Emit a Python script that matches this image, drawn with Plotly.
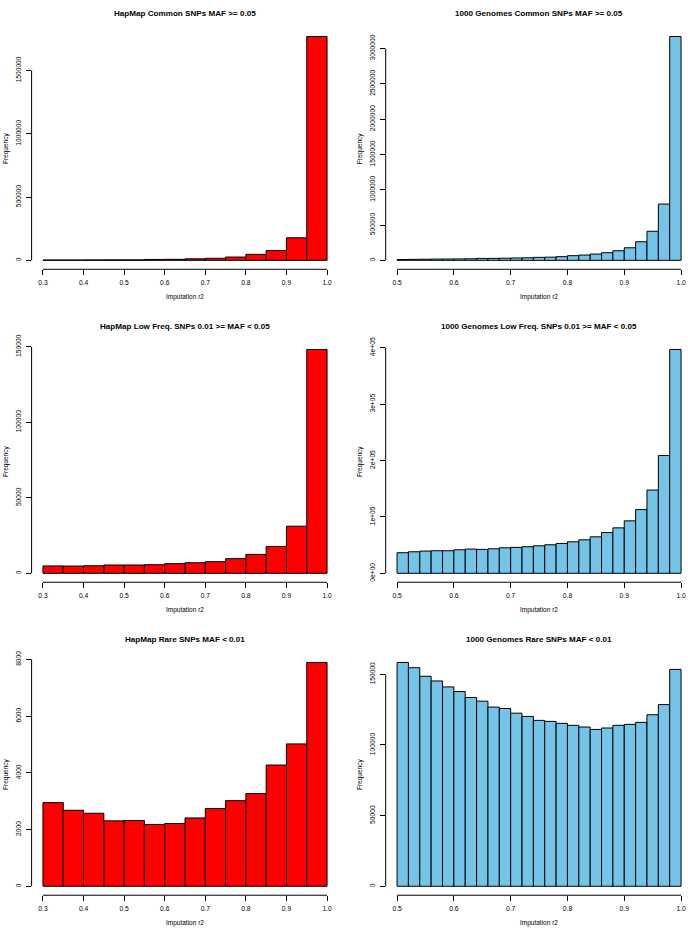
import plotly.graph_objects as go

W, H = 688, 930
FONT = "Liberation Sans, Arial, Helvetica, sans-serif"
RED = "#FF0000"
SKY = "#73C4E6"

# ---- bin edges (categories) ----
hm_edges = [0.30, 0.35, 0.40, 0.45, 0.50, 0.55, 0.60, 0.65, 0.70, 0.75, 0.80, 0.85, 0.90, 0.95, 1.00]
kg_edges = [0.50, 0.52, 0.54, 0.56, 0.58, 0.60, 0.62, 0.64, 0.66, 0.68, 0.70, 0.72, 0.74,
            0.76, 0.78, 0.80, 0.82, 0.84, 0.86, 0.88, 0.90, 0.92, 0.94, 0.96, 0.98, 1.00]

# ---- x tick labels ----
hm_xticks = [0.3, 0.4, 0.5, 0.6, 0.7, 0.8, 0.9, 1.0]
hm_xlabels = ["0.3", "0.4", "0.5", "0.6", "0.7", "0.8", "0.9", "1.0"]
kg_xticks = [0.5, 0.6, 0.7, 0.8, 0.9, 1.0]
kg_xlabels = ["0.5", "0.6", "0.7", "0.8", "0.9", "1.0"]

# ---- counts per bin ----
hm_common = [3000, 3000, 3500, 4000, 4000, 7000, 8000, 12000, 16000, 26000, 47000, 78000, 178000, 1768000]
kg_common = [12000, 14000, 16000, 18000, 19000, 20000, 22000, 27000, 28000, 30000, 33000, 36000, 42000,
             45000, 52000, 66000, 75000, 89000, 108000, 136000, 178000, 263000, 412000, 797000, 3170000]
hm_low = [4900, 4800, 5000, 5500, 5500, 5700, 6400, 7000, 7700, 9700, 12500, 17800, 31200, 148200]
kg_low = [36500, 38200, 39400, 40000, 40000, 41800, 43000, 42400, 43500, 45300, 46000, 47100, 48800,
          50600, 53000, 55900, 59400, 64700, 72300, 80600, 93000, 113000, 147700, 209000, 397000]
hm_rare = [2950, 2680, 2575, 2307, 2320, 2180, 2213, 2410, 2740, 3020, 3270, 4275, 5020, 7893]
kg_rare = [158400, 154700, 148600, 145300, 141100, 137800, 133600, 131000, 126800, 125800, 122500, 120200,
           117400, 116700, 115300, 113900, 112700, 111000, 112000, 113900, 114600, 116000, 121400, 128600, 153500]

# ---- y tick values / labels ----
yt_hm_common = [0, 500000, 1000000, 1500000]
yl_hm_common = ["0", "500000", "1000000", "1500000"]
yt_kg_common = [0, 500000, 1000000, 1500000, 2000000, 2500000, 3000000]
yl_kg_common = ["0", "500000", "1000000", "1500000", "2000000", "2500000", "3000000"]
yt_hm_low = [0, 50000, 100000, 150000]
yl_hm_low = ["0", "50000", "100000", "150000"]
yt_kg_low = [0, 100000, 200000, 300000, 400000]
yl_kg_low = ["0e+00", "1e+05", "2e+05", "3e+05", "4e+05"]
yt_hm_rare = [0, 2000, 4000, 6000, 8000]
yl_hm_rare = ["0", "2000", "4000", "6000", "8000"]
yt_kg_rare = [0, 50000, 100000, 150000]
yl_kg_rare = ["0", "50000", "100000", "150000"]

titles = [
    "HapMap Common SNPs MAF >= 0.05",
    "1000 Genomes Common SNPs MAF >= 0.05",
    "HapMap Low Freq. SNPs 0.01 >= MAF < 0.05",
    "1000 Genomes Low Freq. SNPs 0.01 >= MAF < 0.05",
    "HapMap Rare SNPs MAF < 0.01",
    "1000 Genomes Rare SNPs MAF < 0.01",
]

panels = [
    (hm_edges, hm_common, RED, yt_hm_common, yl_hm_common, hm_xticks, hm_xlabels),
    (kg_edges, kg_common, SKY, yt_kg_common, yl_kg_common, kg_xticks, kg_xlabels),
    (hm_edges, hm_low, RED, yt_hm_low, yl_hm_low, hm_xticks, hm_xlabels),
    (kg_edges, kg_low, SKY, yt_kg_low, yl_kg_low, kg_xticks, kg_xlabels),
    (hm_edges, hm_rare, RED, yt_hm_rare, yl_hm_rare, hm_xticks, hm_xlabels),
    (kg_edges, kg_rare, SKY, yt_kg_rare, yl_kg_rare, kg_xticks, kg_xlabels),
]

# layout geometry (pixels)
col_geom = [(31.6, 338.4), (385.7, 688.0)]
row_tops = [21.7, 336.7, 651.7]
row_h = 243.3
KG_SCALE = 568.0  # px per unit r2 in the right column (R plot region runs past the image edge)

fig = go.Figure()
layout = dict(
    width=W, height=H, margin=dict(l=0, r=0, t=0, b=0),
    paper_bgcolor="white", plot_bgcolor="white", showlegend=False,
    font=dict(family=FONT, color="black", size=7),
    shapes=[], annotations=[],
)

for i, (edges, counts, color, yt, yl, xt, xl) in enumerate(panels):
    k = i + 1
    sfx = "" if k == 1 else str(k)
    row, col = divmod(i, 2)
    left, right = col_geom[col]
    top = row_tops[row]
    lo, hi = edges[0], edges[-1]
    span = hi - lo
    xr0 = lo - 0.04 * span
    if col == 0:
        xr = [xr0, hi + 0.04 * span]
        xcenter = 0.5
    else:
        xr = [xr0, xr0 + (right - left) / KG_SCALE]
        full_w = span * 1.08 * KG_SCALE
        xcenter = 0.5 * full_w / (right - left)

    mids = [(edges[j] + edges[j + 1]) / 2 for j in range(len(counts))]
    widths = [edges[j + 1] - edges[j] for j in range(len(counts))]
    fig.add_trace(go.Bar(
        x=mids, y=counts, width=widths,
        marker=dict(color=color, line=dict(color="black", width=1)),
        xaxis="x" + sfx, yaxis="y" + sfx, hoverinfo="skip",
    ))
    M = max(counts)
    layout["xaxis" + sfx] = dict(
        domain=[left / W, right / W], range=xr, anchor="y" + sfx,
        tickvals=xt, ticktext=xl, ticks="outside", ticklen=5, tickwidth=1, tickcolor="black",
        showgrid=False, zeroline=False, showline=False, fixedrange=True,
        tickfont=dict(family=FONT, size=6.7, color="black"),
        ticklabelstandoff=2,
    )
    layout["yaxis" + sfx] = dict(
        domain=[1 - (top + row_h) / H, 1 - top / H], range=[-0.04 * M, 1.04 * M], anchor="x" + sfx,
        tickvals=yt, ticktext=yl, ticks="outside", ticklen=5, tickwidth=1, tickcolor="black",
        tickangle=-90, showgrid=False, zeroline=False, showline=False, fixedrange=True,
        tickfont=dict(family=FONT, size=6.7, color="black"),
        ticklabelstandoff=2,
    )
    # R-style axis lines spanning first to last tick
    layout["shapes"].append(dict(type="line", xref="x" + sfx, yref="y" + sfx + " domain",
                                 x0=xt[0], x1=xt[-1], y0=0, y1=0,
                                 line=dict(color="black", width=1)))
    layout["shapes"].append(dict(type="line", xref="x" + sfx + " domain", yref="y" + sfx,
                                 x0=0, x1=0, y0=yt[0], y1=yt[-1],
                                 line=dict(color="black", width=1)))
    # title
    layout["annotations"].append(dict(
        text="<b>" + titles[i] + "</b>", xref="x" + sfx + " domain", yref="y" + sfx + " domain",
        x=xcenter, y=1, yshift=14,
        showarrow=False, xanchor="center", yanchor="middle",
        font=dict(family=FONT, size=8.1, color="black"),
    ))
    # axis titles
    layout["annotations"].append(dict(
        text="Imputation r2", xref="x" + sfx + " domain", yref="y" + sfx + " domain",
        x=xcenter, y=0, yshift=-28,
        showarrow=False, xanchor="center", yanchor="middle",
        font=dict(family=FONT, size=6.5, color="black"),
    ))
    layout["annotations"].append(dict(
        text="Frequency", xref="x" + sfx + " domain", yref="y" + sfx + " domain",
        x=0, y=0.5, xshift=-25, textangle=-90,
        showarrow=False, xanchor="center", yanchor="middle",
        font=dict(family=FONT, size=6.5, color="black"),
    ))

fig.update_layout(**layout)
fig.write_html("out.html", config={"displayModeBar": False},
               post_script="document.body.style.margin='0';document.body.style.overflow='hidden';")
